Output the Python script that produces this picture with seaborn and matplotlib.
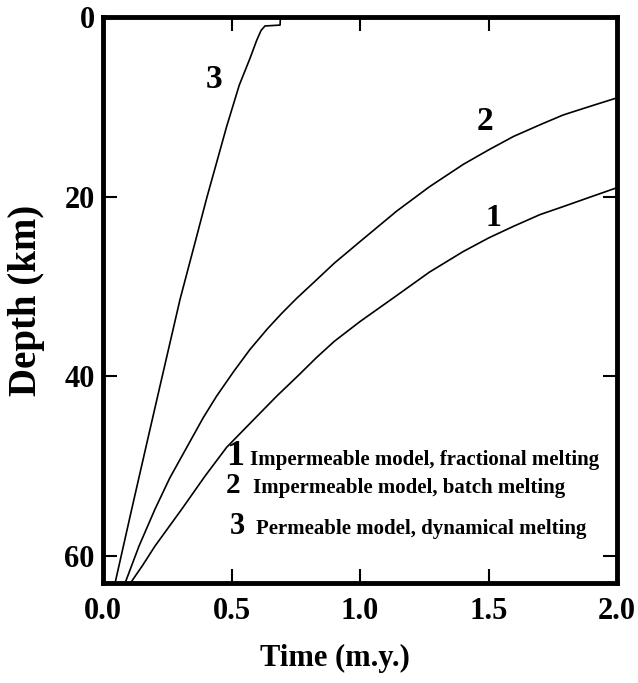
import matplotlib
matplotlib.use("Agg")
import matplotlib.pyplot as plt
import seaborn as sns
import pandas as pd

# ---- data ----
time_1 = [0.107, 0.155, 0.202, 0.306, 0.397, 0.481, 0.580, 0.676, 0.760, 0.831, 0.900,
          1.000, 1.143, 1.270, 1.402, 1.500, 1.597, 1.700, 1.791, 1.900, 2.000]
depth_1 = [63.0, 61.0, 58.9, 54.8, 51.1, 47.9, 45.0, 42.2, 39.9, 37.9, 36.1,
           33.9, 31.0, 28.4, 26.1, 24.6, 23.3, 22.0, 21.1, 20.0, 19.0]

time_2 = [0.086, 0.140, 0.202, 0.260, 0.326, 0.390, 0.442, 0.510, 0.572, 0.640, 0.695, 0.754,
          0.818, 0.900, 1.000, 1.143, 1.270, 1.402, 1.500, 1.597, 1.700, 1.791, 1.900, 2.000]
depth_2 = [63.0, 58.9, 54.8, 51.3, 47.9, 44.6, 42.2, 39.4, 37.0, 34.7, 33.0, 31.3,
           29.6, 27.4, 25.0, 21.6, 18.9, 16.4, 14.8, 13.3, 12.0, 10.9, 9.9, 9.0]

time_3 = [0.047, 0.110, 0.174, 0.228, 0.300, 0.360, 0.405, 0.445, 0.481, 0.530, 0.572,
          0.598, 0.615, 0.630, 0.689, 0.690]
depth_3 = [63.0, 55.0, 47.0, 40.3, 31.4, 24.9, 20.0, 15.9, 12.2, 7.6, 4.6,
           2.6, 1.5, 1.0, 0.9, 0.2]

curve_ids = ["1", "2", "3"]
legend_texts = ["Impermeable model, fractional melting",
                "Impermeable model, batch melting",
                "Permeable model, dynamical melting"]
x_ticks = [0.0, 0.5, 1.0, 1.5, 2.0]
x_tick_labels = ["0.0", "0.5", "1.0", "1.5", "2.0"]
y_ticks = [0, 20, 40, 60]
y_tick_labels = ["0", "20", "40", "60"]

df = pd.concat([
    pd.DataFrame({"time": time_1, "depth": depth_1, "curve": "1"}),
    pd.DataFrame({"time": time_2, "depth": depth_2, "curve": "2"}),
    pd.DataFrame({"time": time_3, "depth": depth_3, "curve": "3"}),
], ignore_index=True)

sns.set_theme(style="white")
plt.rcParams["font.family"] = ["Liberation Serif", "DejaVu Serif"]
plt.rcParams["font.weight"] = "bold"
plt.rcParams["text.color"] = "black"
plt.rcParams["axes.labelcolor"] = "black"
plt.rcParams["xtick.color"] = "black"
plt.rcParams["ytick.color"] = "black"

fig = plt.figure(figsize=(6.38, 6.83), dpi=100)
ax = fig.add_axes([103 / 638, 1 - 583 / 683, 514 / 638, 566 / 683])

sns.lineplot(data=df, x="time", y="depth", hue="curve",
             palette={c: "black" for c in curve_ids},
             estimator=None, sort=False, legend=False, linewidth=1.2, ax=ax)

ax.set_xlim(0, 2.0)
ax.set_ylim(63, 0)
ax.set_xticks(x_ticks)
ax.set_xticklabels(x_tick_labels)
ax.set_yticks(y_ticks)
ax.set_yticklabels(y_tick_labels)

for s in ax.spines.values():
    s.set_linewidth(3.5)
    s.set_color("black")
    s.set_visible(True)

ax.tick_params(axis="both", direction="in", length=10, width=1.5, color="black",
               labelcolor="black", labelsize=22, top=True, right=True,
               bottom=True, left=True)
ax.tick_params(axis="x", pad=10)
ax.tick_params(axis="y", pad=6)
for lab in ax.get_xticklabels() + ax.get_yticklabels():
    lab.set_fontweight("bold")
    lab.set_color("black")

ax.set_xlabel("Time (m.y.)", fontsize=22, fontweight="bold", color="black")
ax.set_ylabel("Depth (km)", fontsize=28, fontweight="bold", color="black")
ax.xaxis.set_label_coords(0.451, -0.108)
ax.yaxis.set_label_coords(-0.113, 0.5)

# curve labels
ax.text(0.432, 7.0, "3", fontsize=24, fontweight="bold", ha="center", va="center", color="black")
ax.text(1.486, 11.6, "2", fontsize=24, fontweight="bold", ha="center", va="center", color="black")
ax.text(1.519, 22.4, "1", fontsize=23, fontweight="bold", ha="center", va="center", color="black")

# key
num_x = [0.514, 0.506, 0.521]
num_size = [26, 21, 22]
txt_x = [0.572, 0.584, 0.595]
base_y = [49.9, 53.0, 57.6]
for i in range(3):
    ax.text(num_x[i], base_y[i], curve_ids[i], fontsize=num_size[i], fontweight="bold",
            ha="center", va="baseline", color="black")
    ax.text(txt_x[i], base_y[i], legend_texts[i], fontsize=15, fontweight="bold",
            ha="left", va="baseline", color="black")

fig.savefig("out.png", dpi=100, facecolor="white")
